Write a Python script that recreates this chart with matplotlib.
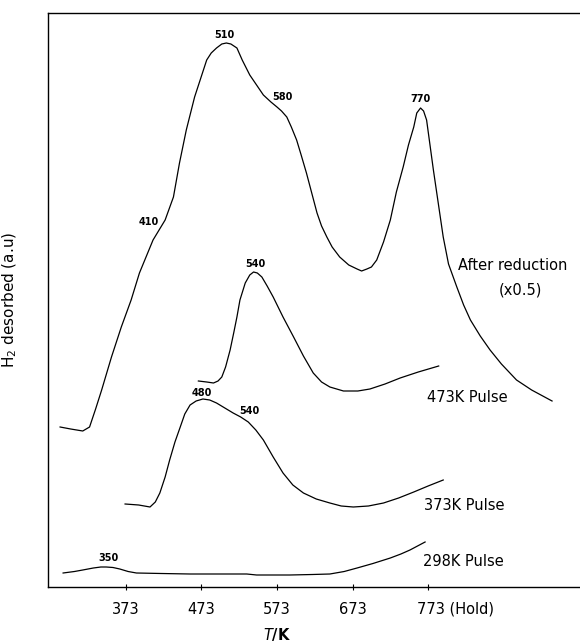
import matplotlib.pyplot as plt
from matplotlib.transforms import ScaledTranslation

# temperatures (K) and desorption signal (arbitrary units)
after_T = [286, 300, 316, 325, 333, 341, 354, 367, 380, 391, 409, 425, 436, 444,
           453, 464, 480, 486, 493, 500, 506, 512, 520, 527, 537, 546, 555, 565,
           573, 579, 586, 592, 599, 605, 612, 619, 626, 632, 639, 646, 656, 668,
           679, 685, 692, 698, 705, 714, 723, 731, 740, 747, 754, 758, 763, 767,
           771, 780, 793, 800, 811, 820, 829, 842, 855, 870, 890, 910, 937]
after_I = [160, 158, 156, 160, 178, 197, 230, 260, 287, 314, 347, 367, 390, 424,
           457, 490, 527, 534, 539, 543, 544, 543, 539, 527, 512, 502, 492, 485,
           480, 476, 470, 460, 447, 432, 414, 394, 374, 361, 350, 340, 330, 322,
           318, 316, 318, 320, 327, 345, 367, 395, 420, 442, 460, 474, 479, 476,
           467, 417, 350, 323, 300, 282, 267, 251, 237, 223, 207, 197, 186]

p473_T = [469, 480, 489, 495, 500, 505, 511, 516, 520, 524, 531, 537, 542, 547,
          553, 560, 568, 581, 595, 608, 621, 632, 643, 661, 680, 696, 716, 736,
          760, 787]
p473_I = [206, 205, 204, 206, 210, 220, 237, 255, 270, 287, 304, 312, 315, 314,
          310, 301, 290, 270, 250, 231, 214, 205, 200, 196, 196, 198, 203, 209,
          215, 221]

p373_T = [372, 390, 405, 412, 418, 425, 431, 438, 445, 451, 458, 466, 475, 484,
          493, 504, 515, 525, 535, 545, 555, 568, 581, 594, 608, 625, 643, 658,
          674, 694, 714, 734, 754, 773, 793]
p373_I = [83, 82, 80, 85, 94, 110, 127, 145, 160, 173, 182, 186, 188, 187,
          184, 179, 174, 170, 165, 157, 147, 130, 114, 102, 94, 88, 84, 81,
          80, 81, 84, 89, 95, 101, 107]

p298_T = [290, 305, 316, 330, 340, 347, 356, 365, 376, 387, 420, 458, 533, 546,
          590, 620, 643, 662, 679, 700, 723, 737, 749, 769]
p298_I = [14, 15.5, 17, 19, 20, 20, 19.5, 18, 15.5, 14, 13.5, 13, 13, 12,
          12, 12.5, 13, 15.5, 19, 23.5, 29, 33, 37, 45]

tick_T = [373, 473, 573, 673, 773]
tick_labels = ["373", "473", "573", "673", "773 (Hold)"]

# peak labels: (text, T, signal)
peaks = [("510", 503, 552), ("580", 580, 490), ("410", 403, 365),
         ("770", 763, 488), ("540", 544, 323), ("480", 473, 194),
         ("540", 537, 176), ("350", 350, 29)]

# curve names: (text, T, signal)
names = [("After reduction", 813, 322), ("473K Pulse", 771, 190),
         ("373K Pulse", 768, 82), ("298K Pulse", 766, 26)]


def main():
    fig = plt.figure(figsize=(5.8, 6.44), dpi=100)
    ax = fig.add_axes([48 / 580, 57 / 644, 532 / 580, 574 / 644])

    for T, I in [(after_T, after_I), (p473_T, p473_I),
                 (p373_T, p373_I), (p298_T, p298_I)]:
        ax.plot(T, I, color="black", lw=0.9, solid_joinstyle="round")

    for txt, T, I in peaks:
        ax.text(T, I, txt, fontsize=7, fontweight="bold", ha="center", va="center")

    for txt, T, I in names:
        ax.text(T, I, txt, fontsize=10.5, ha="left", va="center")
    ax.text(895, 297, "(x0.5)", fontsize=10.5, ha="center", va="center")

    ax.set_xlim(270, 974)
    ax.set_ylim(0, 574)
    ax.set_yticks([])
    ax.set_xticks(tick_T)
    ax.set_xticklabels(tick_labels, fontsize=10.5)
    ax.tick_params(axis="x", direction="inout", length=5, width=0.8, pad=8)
    last = ax.get_xticklabels()[-1]
    last.set_horizontalalignment("left")
    last.set_transform(last.get_transform() + ScaledTranslation(-0.11, 0, fig.dpi_scale_trans))

    ax.spines["right"].set_visible(False)
    for s in ["left", "bottom", "top"]:
        ax.spines[s].set_linewidth(1.0)

    ax.set_xlabel("$T$/K", fontsize=10.5, fontweight="bold")
    ax.xaxis.set_label_coords(0.43, -0.068)
    ax.set_ylabel("H$_2$ desorbed (a.u)", fontsize=11)
    ax.yaxis.set_label_coords(-0.055, 0.5)

    fig.savefig("out.png", dpi=100)


if __name__ == "__main__":
    main()
